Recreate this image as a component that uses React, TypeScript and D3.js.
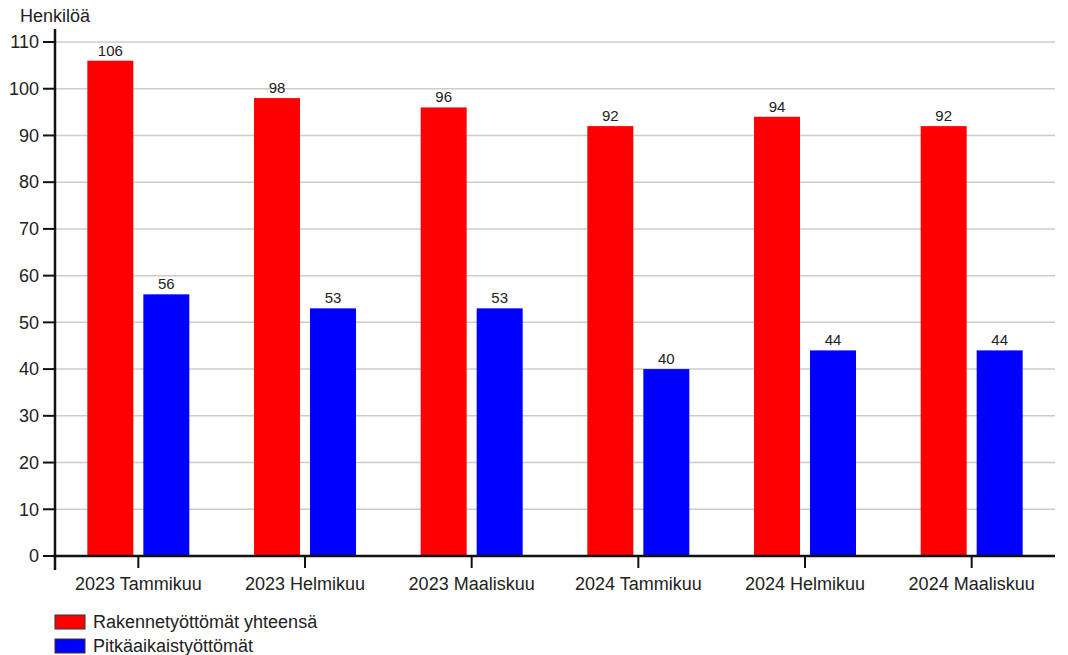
import React from "react";
import * as d3 from "d3";

const categories = ["2023 Tammikuu", "2023 Helmikuu", "2023 Maaliskuu", "2024 Tammikuu", "2024 Helmikuu", "2024 Maaliskuu"];
const seriesNames = ["Rakennetyöttömät yhteensä", "Pitkäaikaistyöttömät"];
const totalValues = [106, 98, 96, 92, 94, 92];
const longTermValues = [56, 53, 53, 40, 44, 44];
const yTicks = [0, 10, 20, 30, 40, 50, 60, 70, 80, 90, 100, 110];
const colors = ["#ff0000", "#0000ff"];
const yTitle = "Henkilöä";

export default function App() {
  const W = 1068, H = 655;
  const left = 55, right = 1055, top = 42, bottom = 556;
  const font = "'Liberation Sans', Arial, sans-serif";
  const x = d3.scaleBand<string>().domain(categories).range([left, right]);
  const y = d3.scaleLinear().domain([0, 110]).range([bottom, top]);
  const barW = 46, gap = 10;
  const series = [totalValues, longTermValues];
  return (
    <svg width={W} height={H} style={{ position: "absolute", left: 0, top: 0, background: "#fff" }} fontFamily={font}>
      {yTicks.filter(t => t > 0).map(t => (
        <line key={"g" + t} x1={left} x2={right} y1={y(t)} y2={y(t)} stroke="#cccccc" strokeWidth={1.5} />
      ))}
      {series.map((vals, si) =>
        vals.map((v, i) => {
          const c = x(categories[i])! + x.bandwidth() / 2;
          const bx = si === 0 ? c - gap / 2 - barW : c + gap / 2;
          return (
            <g key={si + "-" + i}>
              <rect x={bx} y={y(v)} width={barW} height={y(0) - y(v)} fill={colors[si]} />
              <text x={bx + barW / 2} y={y(v) - 5} textAnchor="middle" fontSize={15} fill="#222">{v}</text>
            </g>
          );
        })
      )}
      <line x1={left} x2={left} y1={29} y2={570} stroke="#111" strokeWidth={2.5} />
      <line x1={left - 2} x2={right} y1={bottom} y2={bottom} stroke="#111" strokeWidth={2.5} />
      {yTicks.map(t => (
        <g key={"t" + t}>
          <line x1={43} x2={left} y1={y(t)} y2={y(t)} stroke="#111" strokeWidth={2} />
          <text x={39} y={y(t)} dy="0.35em" textAnchor="end" fontSize={18} fill="#222">{t}</text>
        </g>
      ))}
      {categories.map(c => {
        const cx = x(c)! + x.bandwidth() / 2;
        return (
          <g key={c}>
            <line x1={cx} x2={cx} y1={bottom} y2={568} stroke="#111" strokeWidth={2} />
            <text x={cx} y={590} textAnchor="middle" fontSize={18} fill="#222">{c}</text>
          </g>
        );
      })}
      <text x={20} y={22} fontSize={18} fill="#222">{yTitle}</text>
      {seriesNames.map((n, i) => (
        <g key={n}>
          <rect x={55} y={615 + i * 24} width={30} height={14} fill={colors[i]} stroke="#333" strokeWidth={1} />
          <text x={93} y={622 + i * 24} dy="0.35em" fontSize={18} fill="#222">{n}</text>
        </g>
      ))}
    </svg>
  );
}
